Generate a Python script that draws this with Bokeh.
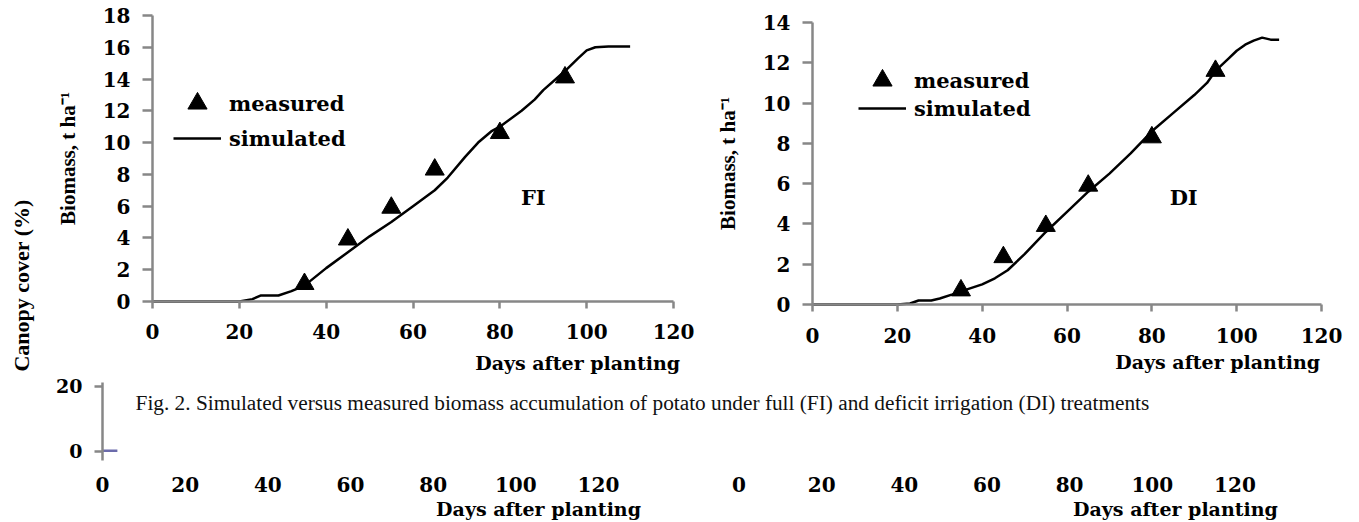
from bokeh.plotting import figure
from bokeh.layouts import column, row
from bokeh.models import Range1d, FixedTicker, Label, Legend, LegendItem
from bokeh.embed import file_html
from bokeh.resources import INLINE
import math

# ---------------- data ----------------
x_ticks = [0, 20, 40, 60, 80, 100, 120]
fi_y_ticks = [0, 2, 4, 6, 8, 10, 12, 14, 16, 18]
di_y_ticks = [0, 2, 4, 6, 8, 10, 12, 14]

days_measured = [35, 45, 55, 65, 80, 95]
fi_measured = [1.1, 3.9, 5.9, 8.3, 10.6, 14.1]
di_measured = [0.7, 2.35, 3.9, 5.9, 8.3, 11.6]

fi_sim_days = [0, 20, 23, 25, 29, 32, 35, 40, 45, 50, 55, 60, 65, 68, 72, 75, 78,
               80, 85, 88, 90, 95, 98, 100, 102, 105, 110]
fi_sim_bio = [0, 0, 0.15, 0.38, 0.38, 0.65, 1.0, 2.1, 3.1, 4.1, 5.0, 6.0, 7.0, 7.8,
              9.1, 10.0, 10.7, 11.0, 12.0, 12.7, 13.3, 14.5, 15.3, 15.8, 16.0, 16.05, 16.05]

di_sim_days = [0, 20, 23, 25, 28, 30, 33, 35, 40, 43, 46, 50, 55, 60, 65, 70, 75,
               80, 85, 90, 93, 95, 98, 100, 102, 104, 106, 108, 110]
di_sim_bio = [0, 0, 0.05, 0.2, 0.2, 0.3, 0.5, 0.65, 1.0, 1.3, 1.7, 2.5, 3.6, 4.6,
              5.6, 6.5, 7.5, 8.6, 9.5, 10.4, 11.0, 11.6, 12.2, 12.6, 12.9, 13.1, 13.25, 13.15, 13.15]

canopy_days = [0, 3.6]
canopy_cover = [0.2, 0.2]
canopy_y_ticks = [0, 20]
bottom_right_offset = 154

caption = ("Fig. 2. Simulated versus measured biomass accumulation of potato under "
           "full (FI) and deficit irrigation (DI) treatments")

# ---------------- styles ----------------
AX = "#878787"
BOLD = "DejaVu Serif"
TIMES = "Liberation Serif"


def base_fig(width, height, xr, yr):
    p = figure(width=width, height=height, x_range=Range1d(*xr),
               y_range=Range1d(*yr), output_backend="svg",
               toolbar_location=None, min_border=0)
    p.outline_line_color = None
    p.grid.visible = False
    for ax in (p.xaxis[0], p.yaxis[0]):
        ax.fixed_location = 0
        ax.axis_line_color = AX
        ax.axis_line_width = 2.5
        ax.major_tick_line_color = AX
        ax.major_tick_line_width = 2.5
        ax.major_tick_in = 0
        ax.minor_tick_line_color = None
        ax.major_label_text_font = BOLD
        ax.major_label_text_font_style = "bold"
        ax.major_label_text_font_size = "20px"
        ax.major_label_text_color = "black"
    return p


def chart(width, height, xr, yr, ymax, yticks, days_sim, bio_sim, bio_meas,
          leg_x, leg_y1, leg_y2, tag, tag_x, tag_y, title_x, title_y, xlab_standoff):
    p = base_fig(width, height, xr, yr)
    p.xaxis.bounds = (0, 120)
    p.yaxis.bounds = (0, ymax)
    p.xaxis.ticker = FixedTicker(ticks=x_ticks)
    p.yaxis.ticker = FixedTicker(ticks=yticks)
    p.xaxis.major_tick_out = 7
    p.yaxis.major_tick_out = 10
    p.xaxis.major_label_standoff = xlab_standoff
    p.yaxis.major_label_standoff = 12
    p.yaxis.axis_label = "Biomass, t ha\u207b\u00b9"
    p.yaxis.axis_label_text_font = TIMES
    p.yaxis.axis_label_text_font_style = "bold"
    p.yaxis.axis_label_text_font_size = "21px"
    p.yaxis.axis_label_text_color = "black"
    p.yaxis.axis_label_standoff = 20

    r_sim = p.line(days_sim, bio_sim, line_color="black", line_width=2.5)
    r_meas = p.scatter(days_measured, bio_meas, marker="triangle", size=19,
                       fill_color="black", line_color="black")

    for item, ly in ((LegendItem(label="measured", renderers=[r_meas]), leg_y1),
                     (LegendItem(label="simulated", renderers=[r_sim]), leg_y2)):
        lg = Legend(items=[item], location=(leg_x, ly), padding=0, margin=0,
                    border_line_color=None, background_fill_alpha=0,
                    glyph_width=48, glyph_height=48, label_height=48,
                    label_standoff=8, label_text_font=BOLD,
                    label_text_font_style="bold", label_text_font_size="21px",
                    label_text_color="black")
        p.add_layout(lg)

    p.add_layout(Label(x=tag_x, y=tag_y, text=tag, text_font=BOLD,
                       text_font_style="bold", text_font_size="21px",
                       text_align="center", text_baseline="middle",
                       text_color="black"))
    p.add_layout(Label(x=title_x, y=title_y, text="Days after planting",
                       text_font=BOLD, text_font_style="bold",
                       text_font_size="19px", text_align="center",
                       text_baseline="middle", text_color="black"))
    return p


pA = chart(700, 374, (-35.01, 126.21), (-4.594, 18.94), 18, fi_y_ticks,
           fi_sim_days, fi_sim_bio, fi_measured, 173, 247, 212,
           "FI", 87.7, 6.55, 97.9, -3.84, 16)
pA.add_layout(Label(x=-30.2, y=1.01, text="Canopy cover (%)", angle=math.pi / 2,
                    text_font=TIMES, text_font_style="bold",
                    text_font_size="22px", text_align="center",
                    text_baseline="middle", text_color="black"))

pB = chart(659, 374, (-26.40, 128.95), (-3.476, 15.094), 14, di_y_ticks,
           di_sim_days, di_sim_bio, di_measured, 158, 270, 242,
           "DI", 87.5, 5.31, 95.5, -2.88, 17)

# ---------------- bottom strip ----------------
pC = base_fig(1359, 148, (-24.68, 304.14), (-21.85, 23.69))
pC.yaxis.bounds = (-2.77, 21.23)
pC.xaxis.fixed_location = -2.77
right_ticks = [bottom_right_offset + t for t in x_ticks]
pC.xaxis.ticker = FixedTicker(ticks=x_ticks + right_ticks)
pC.xaxis.major_label_overrides = {bottom_right_offset + t: str(t) for t in x_ticks}
pC.xaxis.axis_line_color = None
pC.xaxis.major_tick_line_color = None
pC.xaxis.major_tick_out = 0
pC.xaxis.major_label_standoff = 17
pC.yaxis.ticker = FixedTicker(ticks=canopy_y_ticks)
pC.yaxis.major_tick_out = 8
pC.yaxis.major_label_standoff = 12
pC.yaxis.major_label_text_font_size = "19px"
pC.line(canopy_days, canopy_cover, line_color="#6b6bab", line_width=2.5)
pC.add_layout(Label(x=8.0, y=14.8, text=caption, text_font=TIMES,
                    text_font_size="21.3px", text_align="left",
                    text_baseline="middle", text_color="#111111"))
for cx in (105.5, 259.6):
    pC.add_layout(Label(x=cx, y=-17.8, text="Days after planting", text_font=BOLD,
                        text_font_style="bold", text_font_size="19px",
                        text_align="center", text_baseline="middle",
                        text_color="black"))

layout = column(row(pA, pB), pC)
open("out.html", "w").write(file_html(layout, INLINE))
